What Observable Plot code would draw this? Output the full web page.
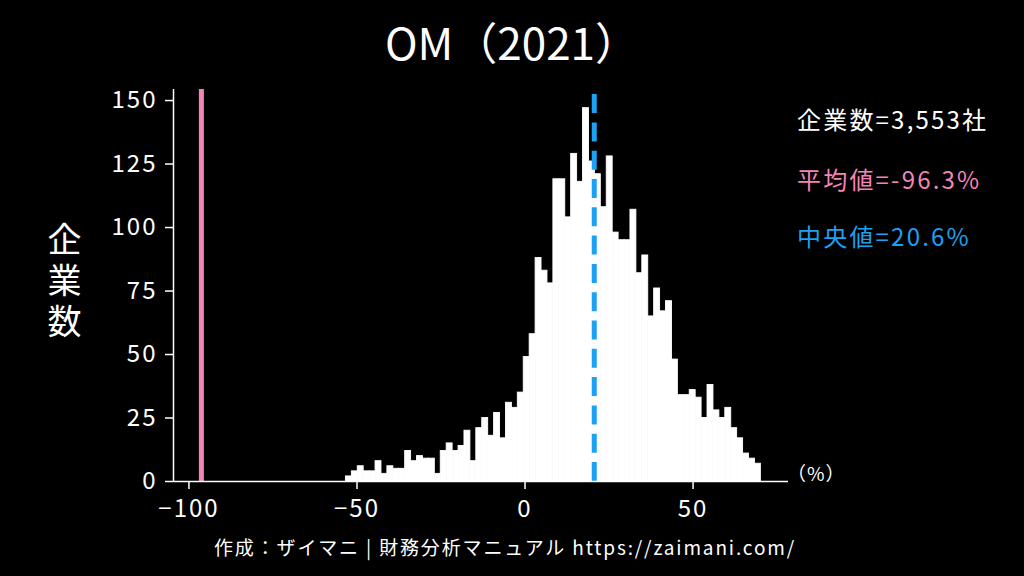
<!DOCTYPE html>
<html><head><meta charset="utf-8">
<script src="https://cdn.jsdelivr.net/npm/d3@7"></script>
<script src="https://cdn.jsdelivr.net/npm/@observablehq/plot@0.6"></script>
<style>
html,body{margin:0;padding:0;background:#000;}
#wrap{position:relative;width:1024px;height:576px;background:#000;overflow:hidden;font-family:"Noto Sans CJK JP","Noto Sans",sans-serif;color:#fff;}
#chart{position:absolute;left:0;top:0;}
.abs{position:absolute;white-space:nowrap;line-height:1;}
</style></head><body>
<div id="wrap">
<div id="chart"></div>
<div id="title" class="abs" style="left:0;width:1024px;text-align:center;top:19px;font-size:44px;">OM（2021）</div>
<div id="ylabel" class="abs" style="left:47px;top:222px;font-size:34px;writing-mode:vertical-rl;letter-spacing:7px;">企業数</div>
<div id="leg1" class="abs" style="left:797px;top:107px;font-size:24px;letter-spacing:2.2px;"></div>
<div id="leg2" class="abs" style="left:797px;top:167px;font-size:24px;letter-spacing:2.2px;"></div>
<div id="leg3" class="abs" style="left:797px;top:224px;font-size:24px;letter-spacing:2.2px;"></div>
<div id="unit" class="abs" style="left:787px;top:463px;font-size:19px;letter-spacing:1px;">（%）</div>
<div id="caption" class="abs" style="left:0;width:1010px;text-align:center;top:537px;font-size:19px;letter-spacing:1.85px;">作成：ザイマニ | 財務分析マニュアル https://zaimani.com/</div>
</div>
<script>
// histogram: 70 bins starting at binStart, width binWidth
const binStart = -53.3;
const binWidth = 1.764;
const counts = [
  2, 4, 6, 4, 4, 8, 3, 6, 5, 5,
  12, 8, 10, 9, 9, 3, 12, 15, 12, 14,
  20, 8, 21, 25, 18, 27, 17, 31, 29, 35,
  49, 58, 88, 83, 78, 119, 119, 104, 129, 118,
  147, 126, 121, 108, 128, 98, 95, 95, 107, 82,
  89, 65, 76, 67, 71, 48, 34, 34, 36, 33,
  25, 38, 28, 25, 29, 21, 17, 11, 9, 7
];
const companyCount = "3,553";
const meanValue = -96.3;
const medianValue = 20.6;
const xDomain = [-104.6, 78.4];
const yDomain = [0, 154.35];
const xTicks = [-100, -50, 0, 50];
const yTicks = [0, 25, 50, 75, 100, 125, 150];
const pink = "#f584b6";
const blue = "#1da1f2";

const bins = counts.map((c, i) => ({x1: binStart + i * binWidth, x2: binStart + (i + 1) * binWidth, count: c}));

document.getElementById("leg1").textContent = "企業数=" + companyCount + "社";
const l2 = document.getElementById("leg2"); l2.textContent = "平均値=" + meanValue.toFixed(1) + "%"; l2.style.color = pink;
const l3 = document.getElementById("leg3"); l3.textContent = "中央値=" + medianValue.toFixed(1) + "%"; l3.style.color = blue;

const plot = Plot.plot({
  width: 1024, height: 576,
  marginLeft: 173, marginRight: 236, marginTop: 89, marginBottom: 95,
  style: {background: "transparent", color: "#fff", fontFamily: '"Noto Sans CJK JP","Noto Sans",sans-serif', fontSize: "24px", letterSpacing: "2px"},
  x: {domain: xDomain},
  y: {domain: yDomain},
  marks: [
    Plot.rectY(bins, {x1: "x1", x2: "x2", y: "count", fill: "#fff", stroke: "#fff", strokeWidth: 0.9, inset: 0}),
    Plot.ruleX([meanValue], {y1: yDomain[0], y2: yDomain[1], stroke: pink, strokeWidth: 5}),
    Plot.ruleX([medianValue], {y1: yDomain[0], y2: yDomain[1], stroke: blue, strokeWidth: 5, strokeDasharray: "19,9.3"}),
    Plot.ruleY([yDomain[0]], {stroke: "#fff", strokeWidth: 1.5}),
    Plot.ruleX([xDomain[0]], {stroke: "#fff", strokeWidth: 1.5}),
    Plot.axisX({ticks: xTicks, tickSize: 8, tickPadding: 10, label: null, strokeWidth: 1.5}),
    Plot.axisY({ticks: yTicks, tickSize: 8, tickPadding: 8, label: null, strokeWidth: 1.5})
  ]
});
document.getElementById("chart").appendChild(plot);
</script>
</body></html>
